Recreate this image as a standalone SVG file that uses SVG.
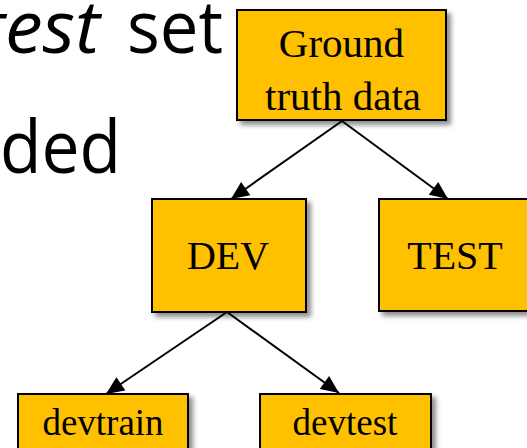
<svg xmlns="http://www.w3.org/2000/svg" width="527" height="448" viewBox="0 0 527 448">
<style>
.box{fill:#FFC000;stroke:#000;stroke-width:2;filter:url(#sh)}
.lbl{font-family:"Liberation Serif","Times New Roman",serif;fill:#000;text-anchor:middle}
.big{font-family:"Open Sans","Liberation Sans",sans-serif;font-size:74px;fill:#000}
.edge{stroke:#000;stroke-width:2;fill:none;marker-end:url(#ah)}
</style>
<defs>
<filter id="sh" x="-20%" y="-20%" width="150%" height="150%">
<feDropShadow dx="4" dy="4" stdDeviation="2.5" flood-color="#000" flood-opacity="0.45"/>
</filter>
<marker id="ah" markerUnits="userSpaceOnUse" markerWidth="20" markerHeight="20" viewBox="0 0 20 20" refX="19" refY="10" orient="auto">
<path d="M1,2 L19,10 L1,18 z" fill="#000"/>
</marker>
</defs>
<g id="bg-text">
<text class="big" x="-20" y="53" font-style="italic" textLength="120" lengthAdjust="spacingAndGlyphs">test</text>
<text class="big" x="127" y="53" textLength="96" lengthAdjust="spacingAndGlyphs">set</text>
<text class="big" x="0" y="173" textLength="121" lengthAdjust="spacingAndGlyphs">ded</text>
</g>
<g id="connectors">
<line class="edge" x1="342" y1="121" x2="231" y2="199"/>
<line class="edge" x1="342" y1="121" x2="448" y2="199"/>
<line class="edge" x1="227" y1="312" x2="106" y2="394"/>
<line class="edge" x1="227" y1="312" x2="339" y2="393"/>
</g>
<g id="ground">
<rect class="box" x="237" y="10" width="209" height="110"/>
<text class="lbl" x="341.5" y="57" font-size="41">Ground</text>
<text class="lbl" x="343" y="110" font-size="41">truth data</text>
</g>
<g id="dev">
<rect class="box" x="152" y="199" width="154" height="113"/>
<text class="lbl" x="228" y="269" font-size="40">DEV</text>
</g>
<g id="test">
<rect class="box" x="379" y="199" width="156" height="112"/>
<text class="lbl" x="455" y="269" font-size="40">TEST</text>
</g>
<g id="devtrain">
<rect class="box" x="18" y="394" width="170" height="70"/>
<text class="lbl" x="103" y="435" font-size="37">devtrain</text>
</g>
<g id="devtest">
<rect class="box" x="260" y="394" width="171" height="70"/>
<text class="lbl" x="345" y="435" font-size="37">devtest</text>
</g>
</svg>
